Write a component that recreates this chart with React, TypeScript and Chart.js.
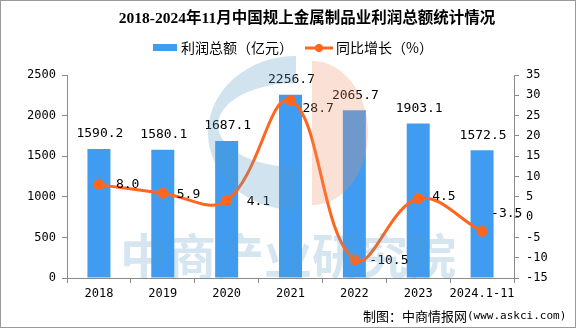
import React, { useEffect, useRef } from "react";
import { Chart, registerables } from "chart.js";

Chart.register(...registerables);

const titleText = "2018-2024年11月中国规上金属制品业利润总额统计情况";
const barLegend = "利润总额（亿元）";
const lineLegend = "同比增长（%）";
const sourceCn = "制图：中商情报网";
const sourceEn = "(www.askci.com)";
const watermarkText = "中商产业研究院";

const categories = ["2018", "2019", "2020", "2021", "2022", "2023", "2024.1-11"];
const profit = [1590.2, 1580.1, 1687.1, 2256.7, 2065.7, 1903.1, 1572.5];
const growth = [8.0, 5.9, 4.1, 28.7, -10.5, 4.5, -3.5];

const leftMin = 0;
const leftMax = 2500;
const leftStep = 500;
const rightMin = -15;
const rightMax = 35;
const rightStep = 5;

const BAR_COLOR = "#3f9cf1";
const LINE_COLOR = "#ff661e";
const AXIS_COLOR = "#8a8a8a";
const MONO = "'DejaVu Sans Mono', 'Noto Sans CJK SC', monospace";
const CJK = "'Noto Sans CJK SC', sans-serif";

// label offsets for line values (style only)
const lineLabelOffsets: [number, number][] = [
  [17, 0],
  [14, 1],
  [20, 1],
  [12, 8],
  [15, 1],
  [14, -2],
  [9, -18],
];

const decor = {
  id: "decor",
  afterDatasetsDraw(chart: any) {
    const ctx = chart.ctx;
    ctx.save();
    ctx.fillStyle = "#000";
    ctx.font = "13px " + MONO;
    ctx.textBaseline = "middle";
    ctx.textAlign = "center";
    const barMeta = chart.getDatasetMeta(0);
    barMeta.data.forEach((el: any, i: number) => {
      ctx.fillText(profit[i].toFixed(1), el.x + 1, el.y - 15);
    });
    ctx.textAlign = "left";
    const lineMeta = chart.getDatasetMeta(1);
    lineMeta.data.forEach((el: any, i: number) => {
      const o = lineLabelOffsets[i];
      ctx.fillText(growth[i].toFixed(1), el.x + o[0], el.y + o[1]);
    });
    ctx.restore();
  },
  afterDraw(chart: any) {
    const ctx = chart.ctx;
    ctx.save();
    // watermark logo
    ctx.fillStyle = "rgba(88,155,198,0.28)";
    ctx.beginPath();
    ctx.ellipse(296, 133, 88, 77, 0, Math.PI / 2, Math.PI * 1.5);
    ctx.closePath();
    ctx.moveTo(296, 167);
    ctx.ellipse(296, 125, 78, 42, 0, Math.PI / 2, Math.PI * 1.5);
    ctx.closePath();
    ctx.fill("evenodd");
    ctx.fillStyle = "rgba(238,145,105,0.28)";
    ctx.beginPath();
    ctx.ellipse(312, 133, 56, 72, 0, -Math.PI / 2, Math.PI / 2);
    ctx.closePath();
    ctx.fill();
    // watermark text
    ctx.fillStyle = "rgba(88,155,198,0.25)";
    ctx.font = "bold 48px " + CJK;
    ctx.textAlign = "center";
    ctx.textBaseline = "middle";
    ctx.fillText(watermarkText, 288, 256);

    // title
    ctx.fillStyle = "#000";
    ctx.font = "bold 15.5px 'Liberation Serif', " + CJK;
    ctx.textAlign = "center";
    ctx.fillText(titleText, 307, 19);

    // legend
    ctx.fillStyle = BAR_COLOR;
    ctx.fillRect(153, 44, 24, 7);
    ctx.fillStyle = "#000";
    ctx.font = "14px " + CJK;
    ctx.textAlign = "left";
    ctx.fillText(barLegend, 181, 48);
    ctx.strokeStyle = LINE_COLOR;
    ctx.lineWidth = 3;
    ctx.beginPath();
    ctx.moveTo(305, 48);
    ctx.lineTo(333, 48);
    ctx.stroke();
    ctx.fillStyle = LINE_COLOR;
    ctx.beginPath();
    ctx.arc(319, 48, 4, 0, Math.PI * 2);
    ctx.fill();
    ctx.fillStyle = "#000";
    ctx.fillText(lineLegend, 336, 48);

    // source
    ctx.font = "13px " + CJK;
    ctx.fillText(sourceCn, 363, 316);
    const w = ctx.measureText(sourceCn).width;
    ctx.font = "11px " + MONO;
    ctx.fillText(sourceEn, 363 + w, 316);

    // border
    ctx.strokeStyle = "#9a9a9a";
    ctx.lineWidth = 1;
    ctx.strokeRect(0.5, 0.5, 575, 327);
    ctx.restore();
  },
};

export default function App() {
  const ref = useRef<HTMLCanvasElement | null>(null);
  useEffect(() => {
    if (!ref.current) return;
    const chart = new Chart(ref.current, {
      type: "bar",
      data: {
        labels: categories,
        datasets: [
          {
            type: "bar",
            label: barLegend,
            data: profit,
            backgroundColor: BAR_COLOR,
            yAxisID: "y",
            categoryPercentage: 1,
            barPercentage: 0.36,
            order: 2,
          },
          {
            type: "line",
            label: lineLegend,
            data: growth,
            yAxisID: "y1",
            borderColor: LINE_COLOR,
            backgroundColor: LINE_COLOR,
            borderWidth: 3,
            pointRadius: 4,
            pointBackgroundColor: LINE_COLOR,
            pointBorderColor: LINE_COLOR,
            tension: 0.4,
            order: 1,
          },
        ] as any,
      },
      options: {
        animation: false,
        responsive: false,
        devicePixelRatio: 1,
        layout: { padding: { top: 75, left: 0, right: 0, bottom: 0 } },
        plugins: {
          legend: { display: false },
          title: { display: false },
          tooltip: { enabled: false },
        },
        scales: {
          x: {
            grid: {
              display: true,
              drawOnChartArea: false,
              drawTicks: true,
              tickLength: 5,
              color: AXIS_COLOR,
              offset: true,
            },
            border: { display: true, color: AXIS_COLOR, width: 1 },
            ticks: {
              color: "#000",
              font: { family: MONO, size: 12 },
              padding: 4,
              maxRotation: 0,
              autoSkip: false,
            },
            afterFit: (s: any) => {
              s.height = 50;
            },
          },
          y: {
            position: "left",
            min: leftMin,
            max: leftMax,
            ticks: {
              stepSize: leftStep,
              color: "#000",
              font: { family: MONO, size: 12 },
              padding: 6,
              callback: (v: any) => String(v),
            },
            grid: { drawOnChartArea: false, drawTicks: true, tickLength: 5, color: AXIS_COLOR },
            border: { display: true, color: AXIS_COLOR, width: 1 },
            afterFit: (s: any) => {
              s.width = 67;
            },
          },
          y1: {
            position: "right",
            min: rightMin,
            max: rightMax,
            ticks: {
              stepSize: rightStep,
              color: "#000",
              font: { family: MONO, size: 12 },
              padding: 7,
              callback: (v: any) => String(v),
            },
            grid: { drawOnChartArea: false, drawTicks: true, tickLength: 5, color: AXIS_COLOR },
            border: { display: true, color: AXIS_COLOR, width: 1 },
            afterFit: (s: any) => {
              s.width = 62;
            },
          },
        },
      } as any,
      plugins: [decor],
    });
    return () => chart.destroy();
  }, []);
  return (
    <div style={{ position: "absolute", left: 0, top: 0, width: 576, height: 328, background: "#fff" }}>
      <canvas ref={ref} width={576} height={328} style={{ display: "block", width: 576, height: 328 }} />
    </div>
  );
}
